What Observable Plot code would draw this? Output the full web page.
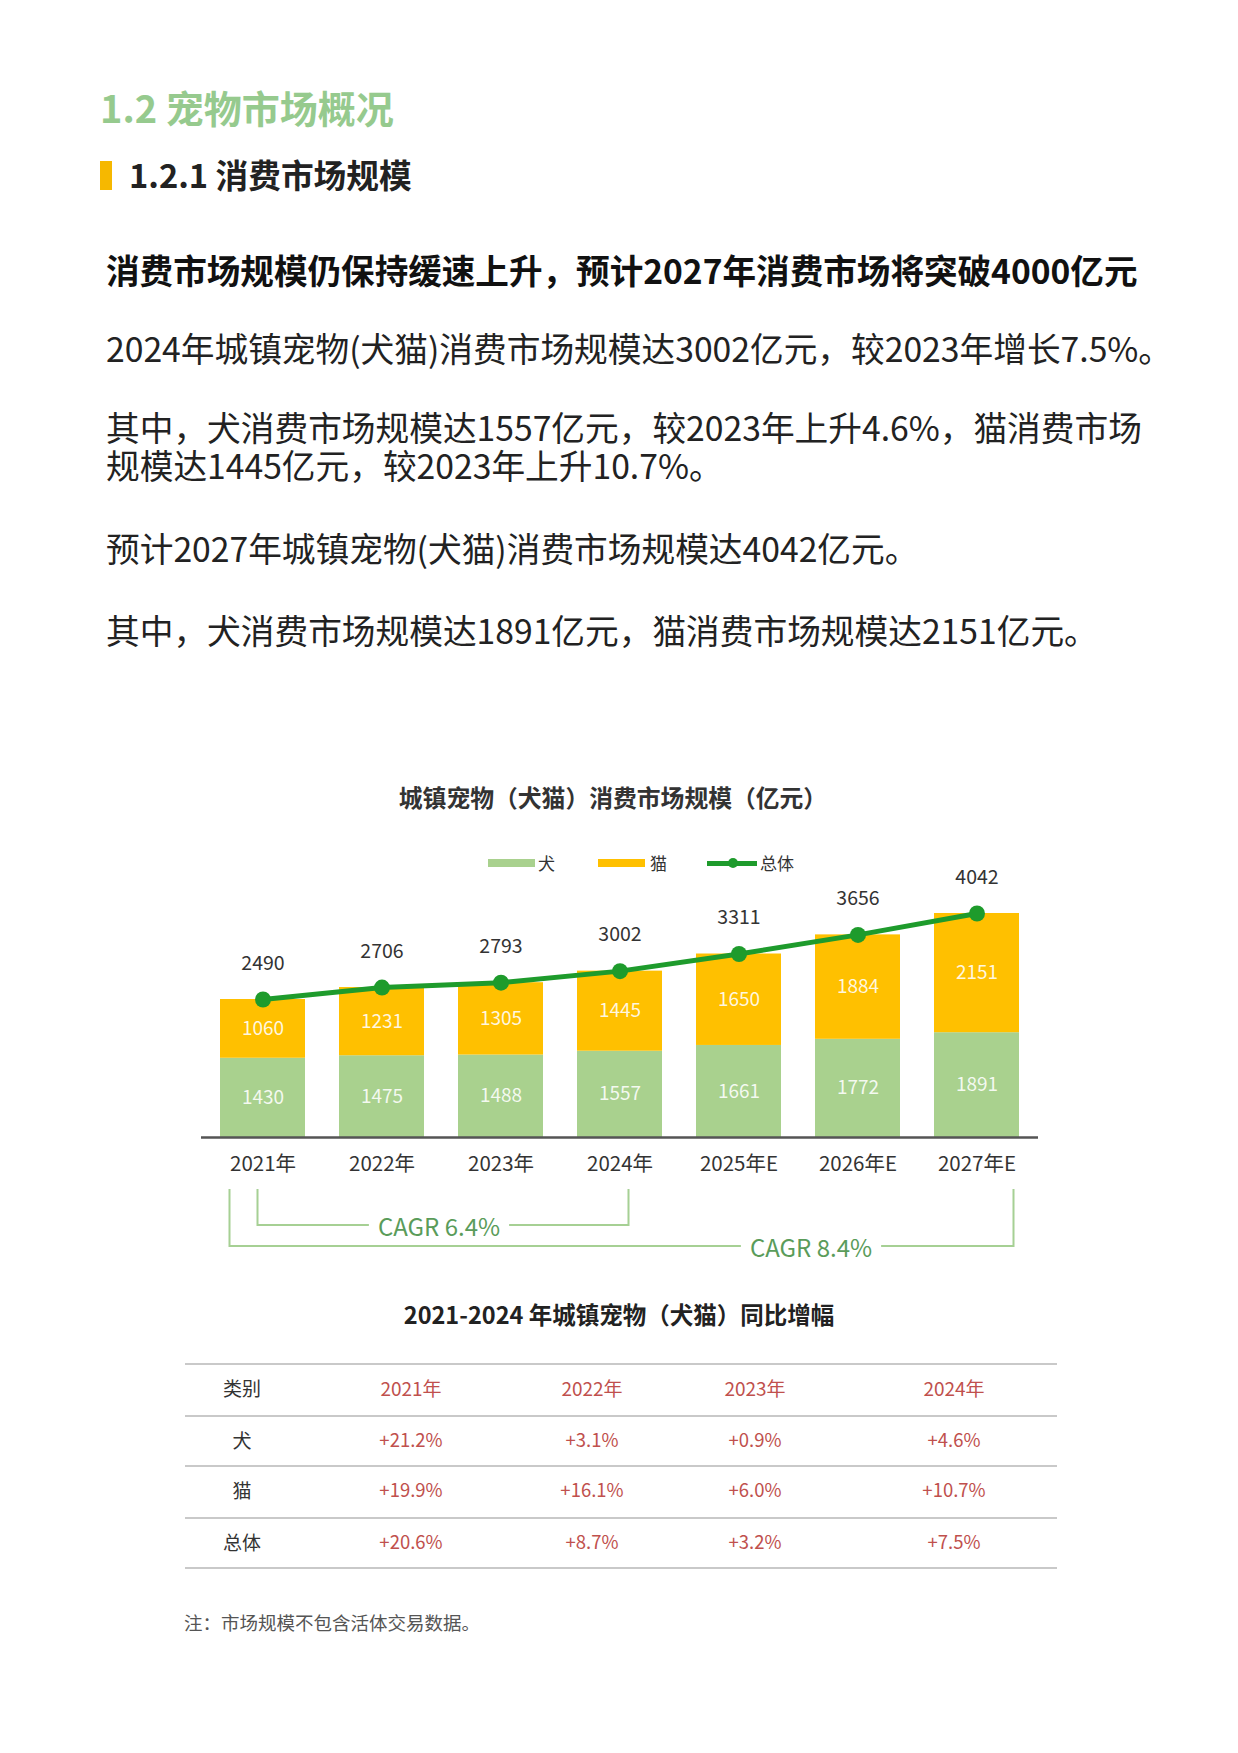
<!DOCTYPE html>
<html>
<head>
<meta charset="utf-8">
<script src="https://cdn.jsdelivr.net/npm/d3@7"></script>
<script src="https://cdn.jsdelivr.net/npm/@observablehq/plot@0.6"></script>
<style>
  html, body { margin: 0; padding: 0; background: #fff; }
  #page { position: relative; width: 1238px; height: 1753px; overflow: hidden;
          font-family: "Noto Sans CJK SC", "Noto Sans", sans-serif; color: #222; background: #fff; }
  .abs { position: absolute; white-space: nowrap; }
  .wrap { white-space: normal; }
  #chart { position: absolute; left: 0; top: 850px; }
</style>
</head>
<body>
<div id="page"></div>
<script>
// ---------------- data ----------------
const years = ["2021年", "2022年", "2023年", "2024年", "2025年E", "2026年E", "2027年E"];
const dog   = [1430, 1475, 1488, 1557, 1661, 1772, 1891];
const cat   = [1060, 1231, 1305, 1445, 1650, 1884, 2151];
const total = [2490, 2706, 2793, 3002, 3311, 3656, 4042];
const seriesNames = ["犬", "猫", "总体"];
const cagr = [
  { from: "2021年", to: "2024年", label: "CAGR 6.4%" },
  { from: "2021年", to: "2027年E", label: "CAGR 8.4%" }
];

const tableTitle = "2021-2024 年城镇宠物（犬猫）同比增幅";
const tableHeader = ["类别", "2021年", "2022年", "2023年", "2024年"];
const tableRows = ["犬", "猫", "总体"];
const growthDog = ["+21.2%", "+3.1%", "+0.9%", "+4.6%"];
const growthCat = ["+19.9%", "+16.1%", "+6.0%", "+10.7%"];
const growthAll = ["+20.6%", "+8.7%", "+3.2%", "+7.5%"];

const sectionTitle = "1.2 宠物市场概况";
const subTitle = "1.2.1 消费市场规模";
const headline = "消费市场规模仍保持缓速上升，预计2027年消费市场将突破4000亿元";
const bodyParagraphs = [
  "2024年城镇宠物(犬猫)消费市场规模达3002亿元，较2023年增长7.5%。",
  "其中，犬消费市场规模达1557亿元，较2023年上升4.6%，猫消费市场规模达1445亿元，较2023年上升10.7%。",
  "预计2027年城镇宠物(犬猫)消费市场规模达4042亿元。",
  "其中，犬消费市场规模达1891亿元，猫消费市场规模达2151亿元。"
];
const chartTitle = "城镇宠物（犬猫）消费市场规模（亿元）";
const note = "注：市场规模不包含活体交易数据。";

// ---------------- helpers ----------------
const page = document.getElementById("page");
function addText(txt, o) {
  const d = document.createElement("div");
  d.className = "abs";
  d.textContent = txt;
  const fs = o.fs;
  const lh = o.lh || fs;
  d.style.fontSize = fs + "px";
  d.style.lineHeight = lh + "px";
  d.style.top = (o.cy - lh / 2 - 0.05 * fs) + "px";
  if (o.cx != null) { d.style.left = o.cx + "px"; d.style.transform = "translateX(-50%)"; }
  else d.style.left = o.left + "px";
  if (o.width) { d.classList.add("wrap"); d.style.width = o.width + "px"; }
  d.style.fontWeight = o.weight || 400;
  d.style.color = o.color || "#222";
  page.appendChild(d);
  return d;
}
function addBox(left, top, w, h, color) {
  const d = document.createElement("div");
  d.className = "abs";
  Object.assign(d.style, { left: left + "px", top: top + "px", width: w + "px", height: h + "px", background: color });
  page.appendChild(d);
  return d;
}

// ---------------- page text ----------------
addText(sectionTitle, { left: 100, cy: 109, fs: 38, weight: 700, color: "#96ca8e" });
addBox(100, 161, 12, 29, "#f6b800");
addText(subTitle, { left: 129, cy: 176, fs: 32.7, weight: 700, color: "#222" });
addText(headline, { left: 106, cy: 271, fs: 33.6, weight: 700, color: "#111" });
const bodyY = [350, 429, 550, 632];
bodyParagraphs.forEach((p, i) => addText(p, {
  left: 106, cy: bodyY[i], fs: 33.7, lh: 38, weight: 400, color: "#222",
  width: i === 1 ? 1045 : null
}));

// chart title
addText(chartTitle, { cx: 613, cy: 798, fs: 23.8, weight: 700, color: "#333" });

const GREEN_BAR = "#a9d18e", YELLOW = "#ffc000", LINE_GREEN = "#1e9b2c";

// ---------------- chart ----------------
const long = [];
years.forEach((y, i) => {
  long.push({ year: y, type: seriesNames[0], value: dog[i] });
  long.push({ year: y, type: seriesNames[1], value: cat[i] });
});
const totals = years.map((y, i) => ({ year: y, total: total[i] }));

const H = 415, MB = 128, baselineFromTop = H - MB;
const yMax = 4500, pxPerUnit = 0.05542;
const MT = baselineFromTop - yMax * pxPerUnit;

const chart = Plot.plot({
  width: 1238, height: H,
  marginLeft: 201, marginRight: 200, marginTop: MT, marginBottom: MB,
  style: { fontFamily: "Noto Sans CJK SC, sans-serif", fontSize: "20.5px", color: "#333", background: "transparent", overflow: "visible" },
  x: { type: "band", domain: years, paddingInner: 0.283, paddingOuter: 0.133, tickSize: 0, tickPadding: 19, label: null },
  y: { domain: [0, yMax], axis: null },
  color: { domain: seriesNames.slice(0, 2), range: [GREEN_BAR, YELLOW] },
  marks: [
    Plot.barY(long, { x: "year", y: "value", fill: "type" }),
    Plot.text(long, Plot.stackY({ x: "year", y: "value", text: d => String(d.value), fill: "white", fillOpacity: 0.88, fontSize: 19 })),
    Plot.ruleY([0], { stroke: "#555", strokeWidth: 2.5 }),
    Plot.line(totals, { x: "year", y: "total", stroke: LINE_GREEN, strokeWidth: 5 }),
    Plot.dot(totals, { x: "year", y: "total", r: 8, fill: LINE_GREEN }),
    Plot.text(totals, { x: "year", y: "total", text: d => String(d.total), dy: -36, fontSize: 19.5, fill: "#333" })
  ]
});
chart.id = "chart";
page.appendChild(chart);

// CAGR brackets, anchored on the x scale
(function () {
  const sx = chart.scale("x");
  const cxOf = v => sx.apply(v) + sx.bandwidth / 2;
  const svg = d3.select(chart);
  const top = 339;
  const layout = [
    { dxFrom: -5, dxTo: 9, level: 375, textX: (a, b) => (a + b) / 2 - 4 },
    { dxFrom: -33, dxTo: 37, level: 396, textX: () => (cxOf("2025年E") + cxOf("2026年E")) / 2 + 13 }
  ];
  const g = svg.append("g");
  cagr.forEach((b, i) => {
    const L = layout[i];
    const x1 = cxOf(b.from) + L.dxFrom, x2 = cxOf(b.to) + L.dxTo;
    g.append("path").attr("d", `M${x1},${top}V${L.level}H${x2}V${top}`)
      .attr("fill", "none").attr("stroke", "#a6d094").attr("stroke-width", 2);
  });
  cagr.forEach((b, i) => {
    const L = layout[i];
    const x1 = cxOf(b.from) + L.dxFrom, x2 = cxOf(b.to) + L.dxTo;
    const tx = L.textX(x1, x2);
    const t = svg.append("text").attr("x", tx).attr("y", L.level).attr("text-anchor", "middle")
      .attr("dominant-baseline", "central").attr("font-size", 24).attr("fill", "#5a9c5a").text(b.label);
    const bb = t.node().getBBox();
    svg.insert("rect", () => t.node()).attr("x", bb.x - 9).attr("y", L.level - 4).attr("width", bb.width + 18)
      .attr("height", 8).attr("fill", "#fff");
  });
})();

// legend (HTML, above the bars)
(function () {
  const cy = 863;
  addBox(488, cy - 4, 47, 8, GREEN_BAR);
  addText(seriesNames[0], { left: 538, cy, fs: 17, color: "#333" });
  addBox(598, cy - 4, 47, 8, YELLOW);
  addText(seriesNames[1], { left: 650, cy, fs: 17, color: "#333" });
  addBox(707, cy - 2.5, 50, 5, LINE_GREEN);
  const dot = addBox(728, cy - 5, 10, 10, LINE_GREEN);
  dot.style.borderRadius = "50%";
  addText(seriesNames[2], { left: 760, cy, fs: 17, color: "#333" });
})();

// ---------------- table ----------------
addText(tableTitle, { cx: 619, cy: 1316, fs: 23.5, weight: 700, color: "#222" });
[1364, 1416, 1466, 1518, 1568].forEach(y => addBox(185, y - 1, 872, 2, "#c9c9c9"));
const colX = [242, 411, 592, 755, 954];
const rowY = [1388, 1440, 1490, 1542];
tableHeader.forEach((t, j) => addText(t, { cx: colX[j], cy: rowY[0], fs: 19, color: j === 0 ? "#333" : "#c0504d" }));
[growthDog, growthCat, growthAll].forEach((vals, i) => {
  addText(tableRows[i], { cx: colX[0], cy: rowY[i + 1], fs: 19, color: "#333" });
  vals.forEach((v, j) => addText(v, { cx: colX[j + 1], cy: rowY[i + 1], fs: 18.5, color: "#c0504d" }));
});

addText(note, { left: 184, cy: 1623, fs: 18.5, color: "#555" });
</script>
</body>
</html>
